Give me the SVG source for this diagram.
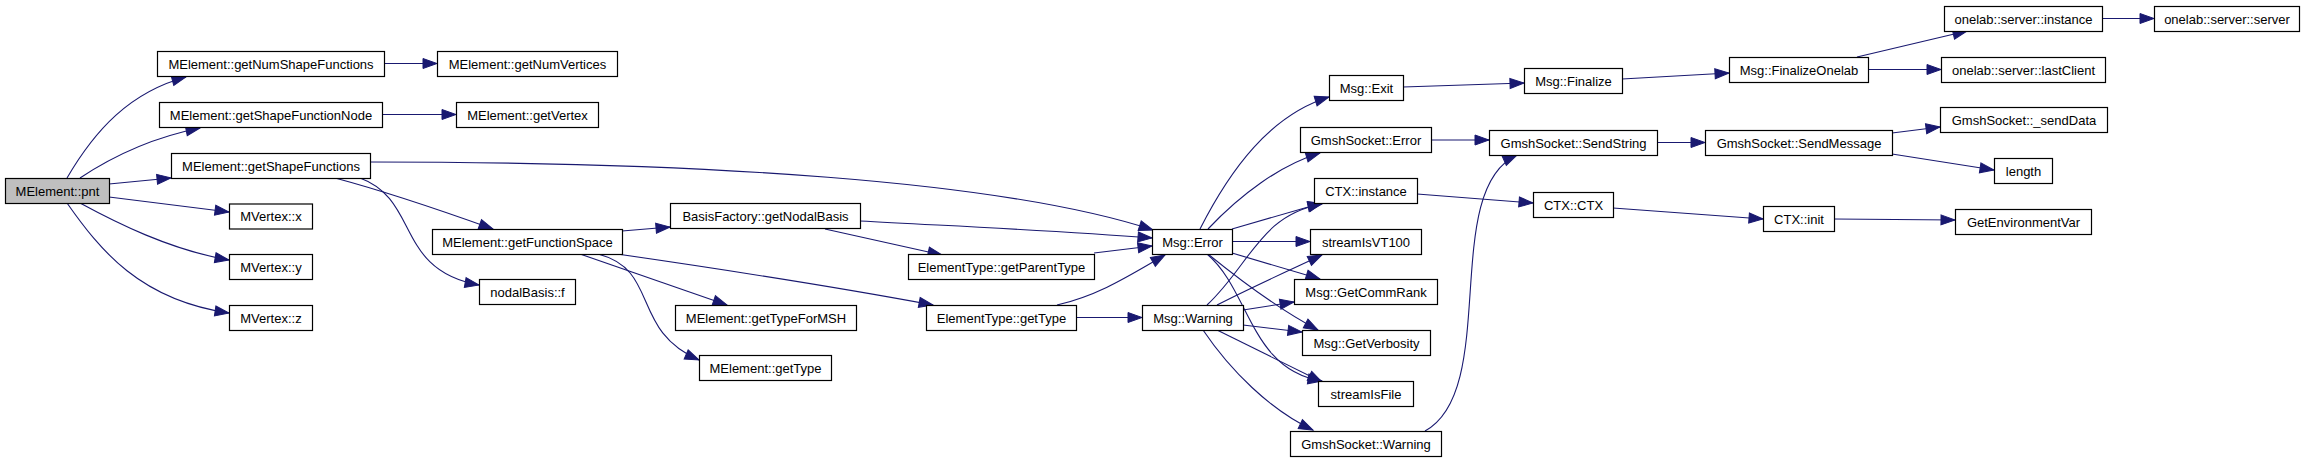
<svg xmlns="http://www.w3.org/2000/svg" width="2304" height="463" viewBox="0 0 2304 463">
<defs>
<style>
.n rect{fill:#fff;stroke:#000;stroke-width:1.2}
.n.root rect{fill:#bfbfbf}
.n text{font-family:"Liberation Sans",Arial,sans-serif;font-size:13px;text-anchor:middle;fill:#000}
.e path{fill:none;stroke:#191970;stroke-width:1.1;marker-end:url(#ah)}
</style>
<marker id="ah" markerUnits="userSpaceOnUse" markerWidth="14" markerHeight="10" refX="14" refY="5" orient="auto" overflow="visible">
<path d="M0,0 L14,5 L0,10 z" fill="#191970" stroke="#191970" stroke-width="1"/>
</marker>
</defs>
<rect width="2304" height="463" fill="#fff"/>
<g id="edges" class="e">
<path d="M67,178 C95,130 130,92 186,77"/>
<path d="M80,178 C110,158 150,138 200,128"/>
<path d="M109,184 L171,178"/>
<path d="M109,197 L229,212"/>
<path d="M80,203 C115,222 170,250 229,260"/>
<path d="M67,203 C100,250 140,300 229,313"/>
<path d="M384,63.5 L437,63.5"/>
<path d="M382,114.5 L456,114.5"/>
<path d="M370,162 C700,162 1000,180 1153,230"/>
<path d="M335,178 C380,190 440,210 493,229"/>
<path d="M360,178 C420,200 395,270 479,285"/>
<path d="M622,231 L670,227"/>
<path d="M580,254 L727,305"/>
<path d="M598,254 C660,270 630,330 699,360"/>
<path d="M617,254 C700,266 820,284 933,305"/>
<path d="M860,221 C950,226 1050,230 1152,238"/>
<path d="M825,229 L942,255"/>
<path d="M1094,253 L1152,246"/>
<path d="M1057,305 C1100,295 1130,275 1165,255"/>
<path d="M1076,317.5 L1142,317.5"/>
<path d="M1200,229 C1230,170 1270,115 1329,97"/>
<path d="M1208,229 C1240,195 1280,165 1320,153"/>
<path d="M1232,229 L1322,203"/>
<path d="M1232,241.5 L1310,241.5"/>
<path d="M1232,253 L1320,279"/>
<path d="M1208,254 C1240,280 1280,310 1318,330"/>
<path d="M1207,254 C1250,290 1250,370 1322,381"/>
<path d="M1207,305 C1250,265 1260,215 1322,204"/>
<path d="M1217,305 C1250,288 1290,270 1322,255"/>
<path d="M1243,310 L1294,302"/>
<path d="M1243,325 L1302,332"/>
<path d="M1217,330 L1322,382"/>
<path d="M1203,330 C1230,370 1270,410 1313,430"/>
<path d="M1425,431 C1500,390 1440,190 1517,155"/>
<path d="M1431,140 L1489,140"/>
<path d="M1417,194 L1533,203"/>
<path d="M1403,87 L1524,83"/>
<path d="M1622,79 L1729,73"/>
<path d="M1657,142.5 L1705,142.5"/>
<path d="M1613,208 L1763,219"/>
<path d="M1857,57 L1967,31"/>
<path d="M1868,69.5 L1941,69.5"/>
<path d="M1892,133 L1940,127"/>
<path d="M1892,154 L1994,170"/>
<path d="M1834,219 L1955,220"/>
<path d="M2102,18.5 L2154,18.5"/>
</g>
<g id="n_pnt" class="n root"><rect x="5.5" y="178.5" width="104" height="25"/><text x="57.5" y="195.5">MElement::pnt</text></g>
<g id="n_getNumShapeFunctions" class="n"><rect x="157.5" y="51.5" width="227" height="25"/><text x="271" y="68.5">MElement::getNumShapeFunctions</text></g>
<g id="n_getShapeFunctionNode" class="n"><rect x="159.5" y="102.5" width="223" height="25"/><text x="271" y="119.5">MElement::getShapeFunctionNode</text></g>
<g id="n_getShapeFunctions" class="n"><rect x="171.5" y="153.5" width="199" height="25"/><text x="271" y="170.5">MElement::getShapeFunctions</text></g>
<g id="n_MVertex_x" class="n"><rect x="229.5" y="204" width="83" height="25"/><text x="271" y="221">MVertex::x</text></g>
<g id="n_MVertex_y" class="n"><rect x="229.5" y="254.5" width="83" height="25"/><text x="271" y="271.5">MVertex::y</text></g>
<g id="n_MVertex_z" class="n"><rect x="229.5" y="305.5" width="83" height="25"/><text x="271" y="322.5">MVertex::z</text></g>
<g id="n_getNumVertices" class="n"><rect x="437.5" y="51.5" width="180" height="25"/><text x="527.5" y="68.5">MElement::getNumVertices</text></g>
<g id="n_getVertex" class="n"><rect x="456.5" y="102.5" width="142" height="25"/><text x="527.5" y="119.5">MElement::getVertex</text></g>
<g id="n_getFunctionSpace" class="n"><rect x="432.5" y="229.5" width="190" height="25"/><text x="527.5" y="246.5">MElement::getFunctionSpace</text></g>
<g id="n_nodalBasis_f" class="n"><rect x="479.5" y="279.5" width="96" height="25"/><text x="527.5" y="296.5">nodalBasis::f</text></g>
<g id="n_getNodalBasis" class="n"><rect x="670.5" y="203.5" width="190" height="25"/><text x="765.5" y="220.5">BasisFactory::getNodalBasis</text></g>
<g id="n_getTypeForMSH" class="n"><rect x="675.5" y="305.5" width="181" height="25"/><text x="766" y="322.5">MElement::getTypeForMSH</text></g>
<g id="n_MElement_getType" class="n"><rect x="699.5" y="355.5" width="132" height="25"/><text x="765.5" y="372.5">MElement::getType</text></g>
<g id="n_getParentType" class="n"><rect x="908.5" y="254.5" width="186" height="25"/><text x="1001.5" y="271.5">ElementType::getParentType</text></g>
<g id="n_ElementType_getType" class="n"><rect x="926.5" y="305.5" width="150" height="25"/><text x="1001.5" y="322.5">ElementType::getType</text></g>
<g id="n_Msg_Error" class="n"><rect x="1152.5" y="229.5" width="80" height="25"/><text x="1192.5" y="246.5">Msg::Error</text></g>
<g id="n_Msg_Warning" class="n"><rect x="1142.5" y="305.5" width="101" height="25"/><text x="1193" y="322.5">Msg::Warning</text></g>
<g id="n_Msg_Exit" class="n"><rect x="1329.5" y="75.5" width="74" height="25"/><text x="1366.5" y="92.5">Msg::Exit</text></g>
<g id="n_GmshSocket_Error" class="n"><rect x="1300.5" y="127.5" width="131" height="25"/><text x="1366" y="144.5">GmshSocket::Error</text></g>
<g id="n_CTX_instance" class="n"><rect x="1314.5" y="178.5" width="103" height="25"/><text x="1366" y="195.5">CTX::instance</text></g>
<g id="n_streamIsVT100" class="n"><rect x="1310.5" y="229.5" width="111" height="25"/><text x="1366" y="246.5">streamIsVT100</text></g>
<g id="n_GetCommRank" class="n"><rect x="1294.5" y="279.5" width="143" height="25"/><text x="1366" y="296.5">Msg::GetCommRank</text></g>
<g id="n_GetVerbosity" class="n"><rect x="1302.5" y="330.5" width="128" height="25"/><text x="1366.5" y="347.5">Msg::GetVerbosity</text></g>
<g id="n_streamIsFile" class="n"><rect x="1318.5" y="381.5" width="95" height="25"/><text x="1366" y="398.5">streamIsFile</text></g>
<g id="n_GmshSocket_Warning" class="n"><rect x="1290.5" y="431.5" width="151" height="25"/><text x="1366" y="448.5">GmshSocket::Warning</text></g>
<g id="n_Msg_Finalize" class="n"><rect x="1524.5" y="68.5" width="98" height="25"/><text x="1573.5" y="85.5">Msg::Finalize</text></g>
<g id="n_SendString" class="n"><rect x="1489.5" y="130.5" width="168" height="25"/><text x="1573.5" y="147.5">GmshSocket::SendString</text></g>
<g id="n_CTX_CTX" class="n"><rect x="1533.5" y="192.5" width="80" height="25"/><text x="1573.5" y="209.5">CTX::CTX</text></g>
<g id="n_FinalizeOnelab" class="n"><rect x="1729.5" y="57.5" width="139" height="25"/><text x="1799" y="74.5">Msg::FinalizeOnelab</text></g>
<g id="n_SendMessage" class="n"><rect x="1705.5" y="130.5" width="187" height="25"/><text x="1799" y="147.5">GmshSocket::SendMessage</text></g>
<g id="n_CTX_init" class="n"><rect x="1763.5" y="206.5" width="71" height="25"/><text x="1799" y="223.5">CTX::init</text></g>
<g id="n_server_instance" class="n"><rect x="1944.5" y="6.5" width="158" height="25"/><text x="2023.5" y="23.5">onelab::server::instance</text></g>
<g id="n_lastClient" class="n"><rect x="1941.5" y="57.5" width="164" height="25"/><text x="2023.5" y="74.5">onelab::server::lastClient</text></g>
<g id="n_sendData" class="n"><rect x="1940.5" y="107.5" width="167" height="25"/><text x="2024" y="124.5">GmshSocket::_sendData</text></g>
<g id="n_length" class="n"><rect x="1994.5" y="158.5" width="58" height="25"/><text x="2023.5" y="175.5">length</text></g>
<g id="n_GetEnvironmentVar" class="n"><rect x="1955.5" y="209.5" width="136" height="25"/><text x="2023.5" y="226.5">GetEnvironmentVar</text></g>
<g id="n_server_server" class="n"><rect x="2154.5" y="6.5" width="145" height="25"/><text x="2227" y="23.5">onelab::server::server</text></g>
</svg>
